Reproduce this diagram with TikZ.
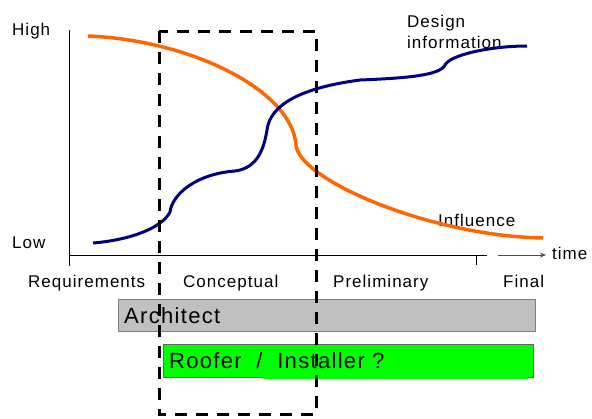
\documentclass[tikz,border=0pt]{standalone}
\usepackage{fontspec}
\setmainfont{Liberation Sans}[LetterSpace=6]
\usetikzlibrary{positioning}
\usetikzlibrary{arrows.meta}
\definecolor{influence}{HTML}{FF6600}
\definecolor{designinfo}{HTML}{000080}
\definecolor{archgray}{HTML}{C0C0C0}
\definecolor{roofgreen}{HTML}{00FF00}
\tikzset{axislabel/.style={anchor=base west,inner sep=0pt,
font=\fontsize{17}{20}\selectfont}}
\tikzset{rolebar/.style={rectangle,anchor=north west,inner xsep=6pt,inner ysep=0pt,
align=left,font=\fontsize{22}{26}\selectfont}}
\tikzset{phasebox/.style={draw=black,line width=3pt,dash pattern=on 12pt off 9pt}}

\begin{document}
\begin{tikzpicture}[x=1pt,y=-1pt]
    \useasboundingbox (0,0) rectangle (592,418);

    % axes
    \coordinate (origin) at (69,255);
    \coordinate (ytop) at (69,30);
    \coordinate (ybot) at (69,266);
    \coordinate (xend) at (487,255);
    \coordinate (arrowstart) at (498,255);
    \coordinate (arrowend) at (546,255);
    \draw [line width=1pt] (ytop) -- (ybot);
    \draw [line width=1pt] (origin) -- (xend);
    \draw [line width=1pt,black!70,-{Stealth[length=6pt,width=5pt]}] (arrowstart) -- (arrowend);
    \draw [line width=1pt] (316,255) -- (316,261);
    \draw [line width=1pt] (476,255) -- (476,265);

    \node[axislabel] (high) at (12,35) {High};
    \node[axislabel] (low) at (12,248) {Low};
    \node[axislabel] (time) at (552,259) {time};
    \node[axislabel] (req) at (28,287) {Requirements};
    \node[axislabel] (concept) at (183,287) {Conceptual};
    \node[axislabel] (prelim) at (333,287) {Preliminary};
    \node[axislabel] (final) at (503,287) {Final};
    \node[axislabel] (design) at (407,27) {Design};
    \node[axislabel] (info) at (407,48) {information};
    \node[axislabel] (infl) at (438,226) {Influence};

    % curves
    \draw [influence,line width=3.5pt] (88,36) .. controls (190,40) and (292,90) .. (296,145)
        .. controls (299,180) and (430,236) .. (543,238);
    \draw [designinfo,line width=3pt] (93,243) .. controls (130,240) and (162,228) .. (170,212)
        .. controls (172,195) and (195,174) .. (235,171)
        .. controls (258,168) and (264,148) .. (267,130)
        .. controls (270,105) and (300,88) .. (360,80)
        .. controls (410,78) and (440,75) .. (445,65)
        .. controls (450,55) and (490,46) .. (527,46);

    % bars
    \node[rolebar,draw=black!50,fill=archgray,minimum width=417pt,minimum height=32pt,
        text width=405pt] (architect) at (118,299) {Architect};
    \node[rolebar,draw=black!60,fill=roofgreen,minimum width=370pt,minimum height=33pt,
        text width=358pt] (roofer) at (163,344) {Roofer \ / \ Installer ?};
    \draw [roofgreen,line width=2pt] ([xshift=100pt,yshift=-1pt]roofer.south west)
        -- ([xshift=-5pt,yshift=-1pt]roofer.south east);

    % conceptual phase
    \draw [phasebox] (159,31) rectangle (316,414);
\end{tikzpicture}
\end{document}
